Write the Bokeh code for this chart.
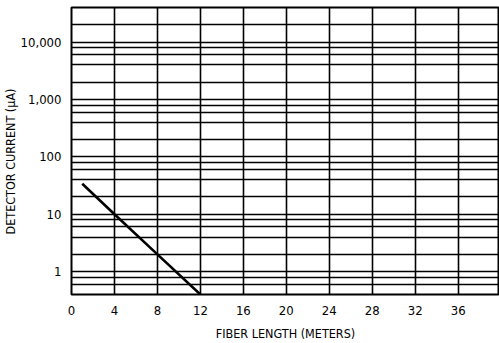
from bokeh.plotting import figure
from bokeh.models import Range1d, FixedTicker, NumeralTickFormatter, Title
from bokeh.embed import file_html
from bokeh.resources import INLINE

# Data
fiber_length_m = [1, 4, 8, 12]
detector_current_uA = [34, 10, 2, 0.4]

x_tick_values = [0, 4, 8, 12, 16, 20, 24, 28, 32, 36]
x_grid_values = [0, 4, 8, 12, 16, 20, 24, 28, 32, 36, 40]
y_tick_values = [1, 10, 100, 1000, 10000]
y_grid_values = [0.6, 0.8, 1, 2, 4, 6, 8, 10, 20, 40, 60, 80, 100,
                 200, 400, 600, 800, 1000, 2000, 4000, 6000, 8000,
                 10000, 20000]

FONT = "DejaVu Sans Condensed"

p = figure(width=499, height=343, output_backend="svg", toolbar_location=None,
           y_axis_type="log",
           x_range=Range1d(0, 39.85), y_range=Range1d(0.4, 40000),
           min_border_left=71, min_border_right=0, min_border_top=7,
           min_border_bottom=45)

p.outline_line_color = "black"
p.outline_line_width = 2
p.background_fill_color = "white"
p.border_fill_color = "white"

p.xaxis.ticker = FixedTicker(ticks=x_tick_values)
p.yaxis.ticker = FixedTicker(ticks=y_tick_values)
p.yaxis.formatter = NumeralTickFormatter(format="0,0")
p.xgrid.ticker = FixedTicker(ticks=x_grid_values)
p.ygrid.ticker = FixedTicker(ticks=y_grid_values)

for g in (p.xgrid, p.ygrid):
    g.grid_line_color = "black"
    g.grid_line_width = 1.6
    g.grid_line_alpha = 1.0

for ax in (p.xaxis, p.yaxis):
    ax.axis_line_color = None
    ax.major_tick_line_color = None
    ax.minor_tick_line_color = None
    ax.major_label_text_font = FONT
    ax.major_label_text_font_size = "13px"
    ax.major_label_text_color = "black"
    ax.major_label_standoff = 5

p.yaxis.major_label_standoff = 4
p.yaxis.axis_label_standoff = 0

p.xaxis.axis_label = "FIBER LENGTH (METERS)"
p.xaxis.axis_label_text_font = FONT
p.xaxis.axis_label_text_font_size = "12.5px"
p.xaxis.axis_label_text_font_style = "normal"
p.xaxis.axis_label_text_color = "black"
p.xaxis.axis_label_standoff = 8

ytitle = Title(text="DETECTOR CURRENT (\u03bcA)", align="left", offset=60,
               text_font=FONT, text_font_size="12.5px",
               text_font_style="normal", text_color="black", standoff=0)
p.add_layout(ytitle, "left")

p.line(fiber_length_m, detector_current_uA, line_color="black", line_width=2.6)

open("out.html", "w").write(file_html(p, INLINE))
